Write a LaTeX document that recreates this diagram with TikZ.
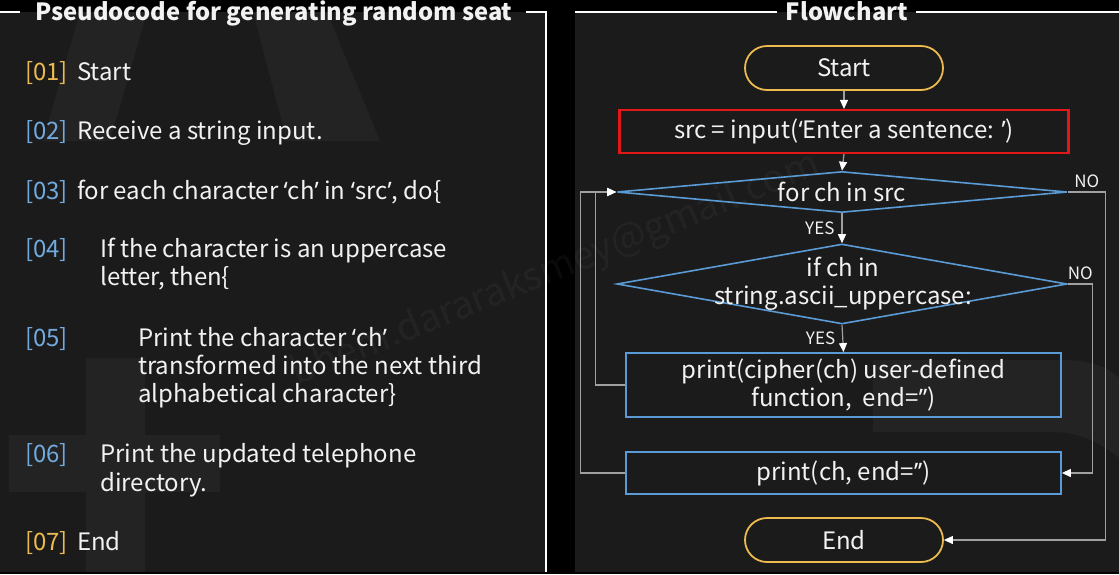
\documentclass[tikz,border=0pt]{standalone}
\usepackage{fontspec}
\setmainfont{Noto Sans CJK SC}
\newfontfamily\qfont{Noto Sans}
\newcommand{\myoq}{{\qfont ‘}}
\newcommand{\mycq}{{\qfont ’}}
\usetikzlibrary{arrows.meta,shapes.geometric,shapes.misc}
\definecolor{panel}{HTML}{1B1B1B}
\definecolor{ghost}{HTML}{232323}
\definecolor{gold}{HTML}{ECBA4E}
\definecolor{lblue}{HTML}{72AAE0}
\definecolor{fblue}{HTML}{5B9BD5}
\definecolor{fred}{HTML}{E01818}
\definecolor{conncol}{HTML}{A0A0A0}
\definecolor{txt}{HTML}{F2F2F2}
\tikzset{
  body/.style={font=\fontsize{24}{28}\selectfont, text=txt, anchor=base west, inner sep=0pt},
  numg/.style={body, text=gold},
  numb/.style={body, text=lblue},
  ttl/.style={font=\bfseries\fontsize{23.7}{27}\selectfont, text=txt, inner sep=0pt, anchor=base},
  frame/.style={draw=white, line width=1.8pt},
  flowtxt/.style={font=\fontsize{24}{28}\selectfont, text=txt, align=center},
  term/.style={rounded rectangle, draw=gold, line width=1.8pt, minimum width=198pt, minimum height=44pt, inner sep=0pt, flowtxt},
  proc/.style={rectangle, draw=fblue, line width=1.8pt, minimum width=435pt, inner sep=0pt, flowtxt},
  dec/.style={diamond, draw=fblue, line width=1.6pt, minimum width=450pt, inner sep=0pt, flowtxt},
  conn/.style={draw=conncol, line width=1.2pt},
  arr/.style={conn, -{Triangle[length=9pt,width=8pt,color=white]}},
  yn/.style={font=\fontsize{17}{19}\selectfont, text=txt, inner sep=0pt}
}
\begin{document}
\begin{tikzpicture}[x=1pt,y=-1pt]
\useasboundingbox (0,0) rectangle (1119,574);
% backgrounds
\fill[black] (0,0) rectangle (1119,574);
\fill[panel] (0,12) rectangle (546,572);
\fill[panel] (575,12) rectangle (1119,572);
% faint background shapes
\fill[ghost] (80,12) -- (147,12) -- (110,141) -- (43,141) -- cycle;
\fill[ghost] (253,12) -- (327,12) -- (380,141) -- (287,141) -- cycle;
\fill[ghost] (86,358) rectangle (145,572);
\fill[ghost] (9,435) rectangle (220,492);
\fill[ghost] (873,360) -- (1065,360) .. controls (1090,360) and (1110,368) .. (1119,378) -- (1119,458) .. controls (1100,442) and (1080,432) .. (1050,432) -- (873,432) -- cycle;
% watermark
\node[rotate=22, text=white, opacity=0.04, font=\fontsize{38}{40}\selectfont, inner sep=0pt] (wm) at (556,270) {bhem.dararaksmey@gmail.com};
% titles and frames
\node[ttl] (t1) at (274,20) {Pseudocode for generating random seat};
\node[ttl] (t2) at (847,20) {Flowchart};
\draw[frame] (0,12) -- (20,12);
\draw[frame] (526,12) -- (546,12) -- (546,572);
\draw[frame] (575,12) -- (777,12);
\draw[frame] (916,12) -- (1119,12);
% pseudocode
\node[numg] (n01) at (25,80) {[01]};
\node[body] (s01) at (77,80) {Start};
\node[numb] (n02) at (25,139) {[02]};
\node[body] (s02) at (77,139) {Receive a string input.};
\node[numb] (n03) at (25,199) {[03]};
\node[body] (s03) at (77,199) {for each character \myoq ch\mycq\ in \myoq src\mycq, do\{};
\node[numb] (n04) at (25,257) {[04]};
\node[body] (s04a) at (100,257) {If the character is an uppercase};
\node[body] (s04b) at (100,285) {letter, then\{};
\node[numb] (n05) at (25,346) {[05]};
\node[body] (s05a) at (138,346) {Print the character \myoq ch\mycq};
\node[body] (s05b) at (138,374) {transformed into the next third};
\node[body] (s05c) at (138,402) {alphabetical character\}};
\node[numb] (n06) at (25,462) {[06]};
\node[body] (s06a) at (100,462) {Print the updated telephone};
\node[body] (s06b) at (100,491) {directory.};
\node[numg] (n07) at (25,550) {[07]};
\node[body] (s07) at (77,550) {End};
% flowchart nodes
\node[term] (start) at (844,68) {Start};
\node[proc, draw=fred, line width=2.2pt, minimum width=449pt, minimum height=43pt] (src) at (844,131.5) {src = input(\myoq Enter a sentence: \mycq)};
\node[dec, aspect=11, minimum height=41pt] (d1) at (842,192) {for ch in src};
\node[dec, minimum height=80pt] (d2) at (842,284) {};
\node[flowtxt, inner sep=0pt] (d2t) at (843,284) {if ch in\\string.ascii\_uppercase:};
\node[proc, minimum height=64pt] (ciph) at (843.5,385) {print(cipher(ch) user-defined\\function,~ end=\mycq\mycq)};
\node[proc, minimum height=42pt] (prt) at (843.5,473) {print(ch, end=\mycq\mycq)};
\node[term] (fin) at (844,540) {End};
% connectors
\draw[arr] (start.south) -- (src.north);
\draw[arr] (src.south) -- (d1.north);
\draw[arr] (d1.south) -- node[yn, left=7pt] (yes1) {YES} (d2.north);
\draw[arr] (d2.south) -- node[yn, left=7pt] (yes2) {YES} (ciph.north);
\draw[arr] (d1.east) -- node[yn, above=4pt] (no1) {NO} ++(38,0) |- (fin.east);
\draw[arr] (d2.east) -- node[yn, above=4pt] (no2) {NO} ++(25,0) |- (prt.east);
\draw[arr] (ciph.west) -- ++(-30,0) |- (d1.west);
\draw[arr] (prt.west) -- ++(-45,0) |- (d1.west);
\end{tikzpicture}
\end{document}
